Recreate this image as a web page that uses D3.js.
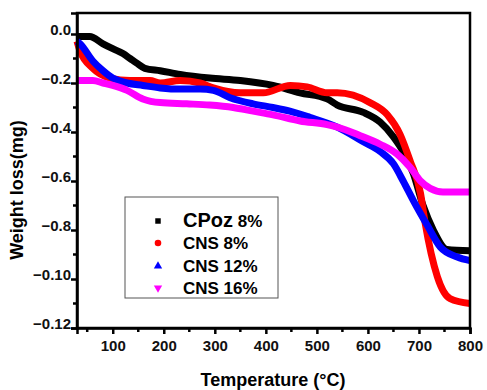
<!DOCTYPE html>
<html>
<head>
<meta charset="utf-8">
<script src="https://cdn.jsdelivr.net/npm/d3@7"></script>
<style>
  body { margin: 0; background: #fff; }
  svg text { font-family: "Liberation Sans", Arial, sans-serif; font-weight: bold; }
</style>
</head>
<body>
<div id="chart"></div>
<script>
// temperature (°C) / weight loss readings per sample
const cpozT = [30, 55, 81, 100, 120, 134, 148, 163, 193, 232, 290, 350, 414, 467, 520, 540, 591, 624, 650, 669, 689, 708, 728, 755, 800];
const cpozW = [-0.01, -0.01, -0.04, -0.06, -0.08, -0.10, -0.12, -0.14, -0.15, -0.165, -0.18, -0.19, -0.21, -0.24, -0.265, -0.29, -0.32, -0.36, -0.42, -0.48, -0.57, -0.70, -0.80, -0.88, -0.885];

const cns8T = [30, 36, 61, 95, 134, 173, 193, 232, 271, 297, 350, 395, 448, 481, 520, 540, 604, 638, 663, 683, 703, 712, 736, 761, 800];
const cns8W = [-0.03, -0.07, -0.14, -0.18, -0.19, -0.19, -0.20, -0.19, -0.20, -0.22, -0.24, -0.24, -0.21, -0.216, -0.24, -0.24, -0.28, -0.33, -0.41, -0.52, -0.65, -0.77, -0.99, -1.08, -1.10];

const cns12T = [30, 36, 61, 81, 100, 128, 159, 193, 232, 271, 297, 330, 375, 414, 447, 486, 540, 591, 624, 650, 669, 689, 716, 742, 775, 800];
const cns12W = [-0.03, -0.04, -0.11, -0.15, -0.18, -0.20, -0.21, -0.22, -0.225, -0.225, -0.23, -0.26, -0.285, -0.30, -0.315, -0.34, -0.38, -0.44, -0.48, -0.53, -0.60, -0.68, -0.78, -0.87, -0.91, -0.925];

const cns16T = [30, 61, 81, 100, 128, 159, 193, 245, 290, 336, 375, 414, 467, 520, 540, 585, 624, 657, 683, 703, 722, 747, 800];
const cns16W = [-0.19, -0.19, -0.20, -0.21, -0.23, -0.265, -0.28, -0.285, -0.29, -0.30, -0.315, -0.33, -0.355, -0.37, -0.38, -0.415, -0.45, -0.49, -0.545, -0.60, -0.63, -0.645, -0.645];

const seriesNames = ["CPoz 8%", "CNS 8%", "CNS 12%", "CNS 16%"];
const seriesColors = ["#000000", "#ff0000", "#0000ff", "#ff00ff"];
const seriesSymbols = [d3.symbolSquare, d3.symbolCircle, d3.symbolTriangle, d3.symbolTriangle];

const xTicks = [100, 200, 300, 400, 500, 600, 700, 800];
const yTicks = [0, -0.2, -0.4, -0.6, -0.8, -1.0, -1.2];
const yTickLabels = ["0.0", "\u22120.2", "\u22120.4", "\u22120.6", "\u22120.8", "\u22120.10", "\u22120.12"];

const width = 487, height = 390;
const svg = d3.select("#chart").append("svg")
  .attr("width", width).attr("height", height);

const x = d3.scaleLinear().domain([30, 800]).range([77, 470]);
const y = d3.scaleLinear().domain([-1.2, 0.0857]).range([328, 13]);

// curves
const series = [
  [cpozT, cpozW], [cns8T, cns8W], [cns12T, cns12W], [cns16T, cns16W]
].map(([t, w], i) => ({ pts: t.map((tv, j) => [tv, w[j]]), i }));

const line = d3.line().x(d => x(d[0])).y(d => y(d[1])).curve(d3.curveMonotoneX);

svg.append("g").selectAll("path")
  .data(series)
  .join("path")
  .attr("d", d => line(d.pts))
  .attr("fill", "none")
  .attr("stroke", d => seriesColors[d.i])
  .attr("stroke-width", 7)
  .attr("stroke-linejoin", "round");

// frame
svg.append("rect")
  .attr("x", 77).attr("y", 13).attr("width", 393).attr("height", 315)
  .attr("fill", "none").attr("stroke", "#000").attr("stroke-width", 2.5);

// x axis
const xAxis = svg.append("g").attr("transform", "translate(0,328)")
  .call(d3.axisBottom(x).tickValues(xTicks).tickSize(6).tickPadding(6));
xAxis.append("g").selectAll("line")
  .data(d3.range(50, 800, 100))
  .join("line")
  .attr("x1", d => x(d)).attr("x2", d => x(d))
  .attr("y1", 0).attr("y2", 4)
  .attr("stroke", "#000").attr("stroke-width", 2.5);

// y axis
const yAxis = svg.append("g").attr("transform", "translate(77,0)")
  .call(d3.axisLeft(y).tickValues(yTicks).tickSize(6).tickPadding(0)
    .tickFormat((d, i) => yTickLabels[i]));
yAxis.append("g").selectAll("line")
  .data(d3.range(-0.1, -1.2, -0.2))
  .join("line")
  .attr("y1", d => y(d)).attr("y2", d => y(d))
  .attr("x1", 0).attr("x2", -4)
  .attr("stroke", "#000").attr("stroke-width", 2.5);

[xAxis, yAxis].forEach(a => {
  a.select(".domain").attr("stroke-width", 2.5);
  a.selectAll(".tick line").attr("stroke-width", 2.5);
  a.selectAll(".tick text").attr("font-size", 15).attr("fill", "#111");
});
yAxis.selectAll(".tick text").attr("dy", "0.05em");

// axis titles
svg.append("text")
  .attr("x", 273).attr("y", 386)
  .attr("text-anchor", "middle").attr("font-size", 18)
  .text("Temperature (°C)");

svg.append("text")
  .attr("transform", "translate(23,190) rotate(-90)")
  .attr("text-anchor", "middle").attr("font-size", 18)
  .text("Weight loss(mg)");

// legend
const legend = svg.append("g");
legend.append("rect")
  .attr("x", 125).attr("y", 197).attr("width", 153).attr("height", 101)
  .attr("fill", "#fff").attr("stroke", "#555").attr("stroke-width", 1);

const rowY = [221, 243, 266, 288];
seriesNames.forEach((name, i) => {
  const sym = d3.symbol().type(seriesSymbols[i]).size(i === 1 ? 34 : 30);
  legend.append("path")
    .attr("d", sym())
    .attr("transform", `translate(158,${rowY[i]})${i === 3 ? " rotate(180)" : ""}`)
    .attr("fill", seriesColors[i]);
  const t = legend.append("text")
    .attr("x", 183).attr("y", rowY[i] + 6)
    .attr("font-size", 17);
  if (i === 0) {
    t.append("tspan").attr("font-size", 20).text("CPoz");
    t.append("tspan").attr("font-size", 17).text(" 8%");
  } else {
    t.text(name);
  }
});
</script>
</body>
</html>
